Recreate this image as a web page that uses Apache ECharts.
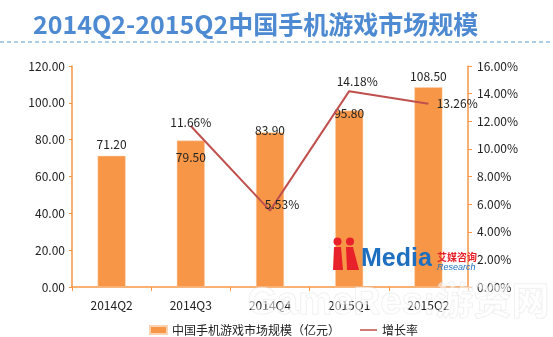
<!DOCTYPE html>
<html>
<head>
<meta charset="utf-8">
<script src="https://cdn.jsdelivr.net/npm/echarts@6/dist/echarts.min.js"></script>
<style>html,body{margin:0;padding:0;background:#fff;}#c{width:553px;height:337px;}</style>
</head>
<body>
<div id="c"></div>
<script>
const categories = ['2014Q2','2014Q3','2014Q4','2015Q1','2015Q2'];
const marketSize = [71.20, 79.50, 83.90, 95.80, 108.50];
const growthRate = [null, 11.66, 5.53, 14.18, 13.26];
const leftTicks = {min: 0, max: 120, interval: 20};
const rightTicks = {min: 0, max: 16, interval: 2};

const FONT = '"Noto Sans CJK SC", "Noto Sans", sans-serif';
const barLabelOffsets = [[0,0],[0,28],[0,9],[0,14],[0,0]];
const lineLabelCfg = [null, {p:'top',o:[0,8]}, {p:'top',o:[12,5]}, {p:'top',o:[8,2]}, {p:'right',o:[3,0]}];

const chart = echarts.init(document.getElementById('c'), null, {renderer:'canvas'});
chart.setOption({
  animation: false,
  backgroundColor: '#fff',
  textStyle: {fontFamily: FONT},
  title: {
    text: '2014Q2-2015Q2中国手机游戏市场规模',
    left: 28, top: 7,
    textStyle: {color: '#4D8AD2', fontSize: 25, fontWeight: 'bold', fontFamily: FONT}
  },
  grid: {left: 72, right: 85, top: 66, bottom: 50},
  legend: {
    left: 144, top: 319,
    itemWidth: 17, itemHeight: 8, itemGap: 20,
    textStyle: {fontSize: 12, color: '#222', fontFamily: FONT},
    data: [
      {name: '中国手机游戏市场规模（亿元）', icon: 'rect'},
      {name: '增长率', icon: 'path://M0,0L0.01,0L0.01,0.01Z M0,3.2H17V4.8H0Z M16.99,7.99L17,7.99L17,8Z'}
    ]
  },
  xAxis: {
    type: 'category', data: categories,
    axisLine: {lineStyle: {color: '#F79646', width: 1.5}},
    axisTick: {show: true, length: 4, lineStyle: {color: '#F79646'}},
    axisLabel: {color: '#222', fontSize: 12, margin: 12, fontFamily: FONT}
  },
  yAxis: [{
    type: 'value', min: leftTicks.min, max: leftTicks.max, interval: leftTicks.interval,
    axisLine: {show: true, lineStyle: {color: '#F79646', width: 1.5}},
    axisTick: {show: true, length: 3, lineStyle: {color: '#F79646'}},
    splitLine: {show: false},
    axisLabel: {color: '#222', fontSize: 12, margin: 7, fontFamily: FONT, formatter: v => v.toFixed(2)}
  }, {
    type: 'value', min: rightTicks.min, max: rightTicks.max, interval: rightTicks.interval,
    position: 'right',
    axisLine: {show: true, lineStyle: {color: '#F79646', width: 1.5}},
    axisTick: {show: true, length: 4, lineStyle: {color: '#F79646'}},
    splitLine: {show: false},
    axisLabel: {color: '#222', fontSize: 12, margin: 9, fontFamily: FONT, formatter: v => v.toFixed(2) + '%'}
  }],
  series: [{
    name: '中国手机游戏市场规模（亿元）',
    type: 'bar', barWidth: 28,
    itemStyle: {color: '#F79646', borderColor: '#FBD3B3', borderWidth: 0.5},
    label: {show: true, position: 'top', distance: 5, color: '#222', fontSize: 12, fontFamily: FONT, formatter: p => p.value.toFixed(2)},
    data: marketSize.map((v,i) => ({value: v, label: {offset: barLabelOffsets[i]}}))
  }, {
    name: '增长率',
    type: 'line', yAxisIndex: 1, symbol: 'none',
    lineStyle: {color: '#C0504D', width: 2},
    itemStyle: {color: '#C0504D'},
    data: growthRate,
    z: 3
  }, {
    name: 'growthLabels',
    type: 'scatter', yAxisIndex: 1, symbolSize: 0.5,
    itemStyle: {color: '#C0504D', opacity: 1},
    label: {show: true, color: '#222', opacity: 1, fontSize: 12, fontFamily: FONT, distance: 5, formatter: p => p.value.toFixed(2) + '%'},
    data: growthRate.map((v,i) => v == null ? null : ({value: v, label: {position: lineLabelCfg[i].p, offset: lineLabelCfg[i].o}})),
    z: 4
  }],
  graphic: [
    {type: 'line', shape: {x1: 0, y1: 42, x2: 553, y2: 42}, style: {stroke: '#5B9BD5', lineWidth: 1, lineDash: [4,3]}},
    {type: 'circle', shape: {cx: 337.5, cy: 241.5, r: 4}, style: {fill: '#E8202A'}, z: 10},
    {type: 'circle', shape: {cx: 350, cy: 241.5, r: 4}, style: {fill: '#E8202A'}, z: 10},
    {type: 'polygon', shape: {points: [[334,247],[341,247],[343,270],[333,270]]}, style: {fill: '#E8202A'}, z: 10},
    {type: 'polygon', shape: {points: [[346,247],[353,247],[359,270],[347,270]]}, style: {fill: '#E8202A'}, z: 10},
    {type: 'text', left: 361, top: 247, z: 10, style: {text: 'Media', fill: '#1E6FC0', font: 'bold 25px "Liberation Sans", sans-serif'}},
    {type: 'text', left: 437, top: 252, z: 10, style: {text: '艾媒咨询', fill: '#E8202A', font: 'bold 10px "Noto Sans CJK SC"'}},
    {type: 'text', left: 437, top: 263, z: 10, style: {text: 'Research', fill: '#1E6FC0', font: 'italic 9px "Liberation Sans", sans-serif'}},
    {type: 'text', left: 247, top: 284, z: 20, style: {text: 'GameRes:游资网', fill: 'rgba(255,255,255,0.55)', stroke: 'rgba(200,200,200,0.35)', lineWidth: 1, font: 'bold 38px "Liberation Sans", "Noto Sans CJK SC", sans-serif'}}
  ]
});
</script>
</body>
</html>
